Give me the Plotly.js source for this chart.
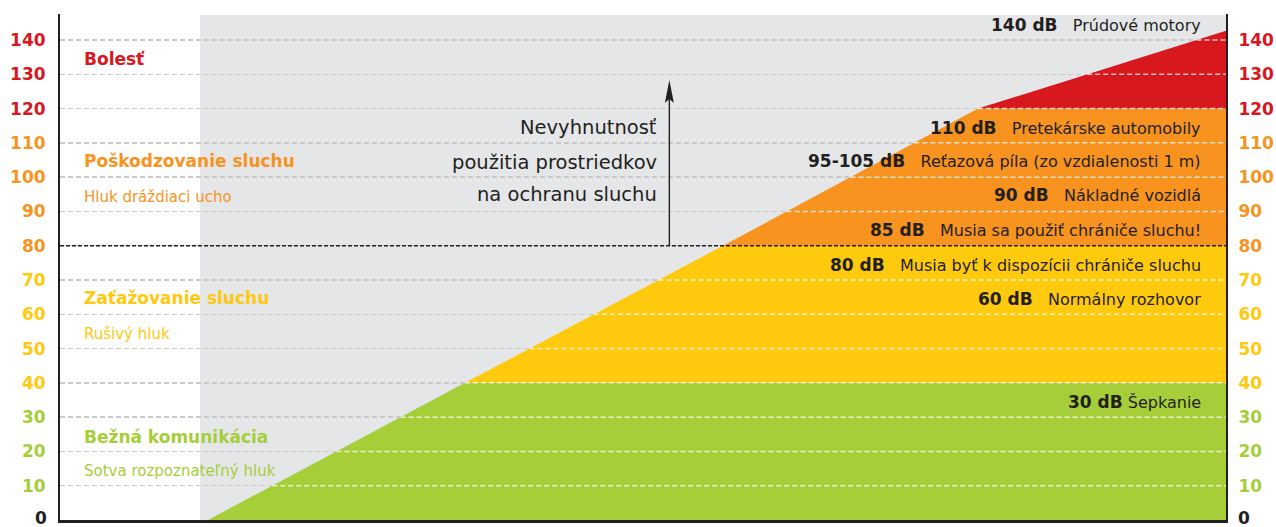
<!DOCTYPE html>
<html>
<head>
<meta charset="utf-8">
<script src="https://cdn.plot.ly/plotly-3.0.1.min.js"></script>
<style>html,body{margin:0;padding:0;background:#fff;}#chart{width:1276px;height:527px;}</style>
</head>
<body>
<div id="chart"></div>
<script>
// ---- data ----
const tickValues = [0, 10, 20, 30, 40, 50, 60, 70, 80, 90, 100, 110, 120, 130, 140];
const tickColors = ['#231f20', '#a6ce39', '#a6ce39', '#a6ce39', '#ffc90e', '#ffc90e', '#ffc90e', '#ffc90e',
                    '#f7931e', '#f7931e', '#f7931e', '#f7931e', '#d7181f', '#d7181f', '#d7181f'];
// noise curve (x: relative position 0-100, y: dB)
const curveX = [12.69, 34.73, 56.86, 78.73, 100];
const curveY = [0, 40, 80, 120, 142.7];
const zoneNames = ['Bežná komunikácia', 'Zaťažovanie sluchu', 'Poškodzovanie sluchu', 'Bolesť'];
const zoneSub = ['Sotva rozpoznateľný hluk', 'Rušivý hluk', 'Hluk dráždiaci ucho', ''];
const zoneColors = ['#a6ce39', '#ffc90e', '#f7931e', '#d7181f'];
const sourceDb = ['140 dB', '110 dB', '95-105 dB', '90 dB', '85 dB', '80 dB', '60 dB', '30 dB'];
const sourceName = ['Prúdové motory', 'Pretekárske automobily', 'Reťazová píla (zo vzdialenosti 1 m)',
                    'Nákladné vozidlá', 'Musia sa použiť chrániče sluchu!', 'Musia byť k dispozícii chrániče sluchu',
                    'Normálny rozhovor', 'Šepkanie'];
const protectionLimit = 80;
const protectionText = ['Nevyhnutnosť', 'použitia prostriedkov', 'na ochranu sluchu'];

// ---- layout helpers ----
const FONT = '"DejaVu Sans", sans-serif';
const yMax = 147.58;
const xGrayStart = 12.01;
const sourceRows = [144.4, 114.3, 104.7, 94.8, 84.6, 74.4, 64.5, 34.4];
const zoneRows = [[24.2, 14.3], [64.75, 54.25], [104.7, 94.2], [134.5, null]];
const protRows = [114.6, 104.4, 94.8];
const arrowX = 52.26, arrowTip = 128.3;
const sp3 = '\u00a0\u00a0\u00a0';
const sep = [sp3, sp3, sp3, sp3, sp3, sp3, sp3, '\u00a0'];

const ticktext = tickValues.map((v, i) => v === 0 ? '' : '<span style="color:' + tickColors[i] + '"><b>' + v + '</b></span>');

const traces = [];
// colored zones
for (let i = 0; i < curveX.length - 1; i++) {
  traces.push({
    type: 'scatter', mode: 'lines', fill: 'toself', fillcolor: zoneColors[i],
    line: {width: 0, color: zoneColors[i]},
    x: [curveX[i], curveX[i + 1], 100, 100, curveX[i]],
    y: [curveY[i], curveY[i + 1], curveY[i + 1], curveY[i], curveY[i]],
    hoverinfo: 'skip', showlegend: false
  });
}
// light dashed grid over the coloured zones
function curveXAt(v) {
  for (let i = 0; i < curveY.length - 1; i++) {
    if (v >= curveY[i] && v <= curveY[i + 1]) {
      return curveX[i] + (v - curveY[i]) / (curveY[i + 1] - curveY[i]) * (curveX[i + 1] - curveX[i]);
    }
  }
  return null;
}
const gx = [], gy = [];
tickValues.forEach(v => {
  if (v === 0 || v === protectionLimit) return;
  const sx = curveXAt(v);
  if (sx === null) return;
  gx.push(sx, 100, null); gy.push(v, v, null);
});
traces.push({type: 'scatter', mode: 'lines', x: gx, y: gy, connectgaps: false,
  line: {color: 'rgba(255,255,255,0.75)', width: 1.5, dash: '5px,3px'}, hoverinfo: 'skip', showlegend: false});
// dummy trace for right axis
traces.push({type: 'scatter', mode: 'markers', x: [0], y: [0], yaxis: 'y2', marker: {opacity: 0}, hoverinfo: 'skip', showlegend: false});

const annotations = [];
const base = {xref: 'x', yref: 'y', yanchor: 'middle', showarrow: false, borderpad: 0, borderwidth: 0};
zoneNames.forEach((n, i) => {
  annotations.push(Object.assign({}, base, {x: 2.06, y: zoneRows[i][0], xanchor: 'left',
    text: '<b>' + n + '</b>', font: {family: FONT, size: 17, color: zoneColors[i]}}));
  if (zoneSub[i]) {
    annotations.push(Object.assign({}, base, {x: 2.06, y: zoneRows[i][1], xanchor: 'left',
      text: zoneSub[i], font: {family: FONT, size: 15, color: zoneColors[i]}}));
  }
});
sourceDb.forEach((d, i) => {
  annotations.push(Object.assign({}, base, {x: 97.86, y: sourceRows[i], xanchor: 'right',
    text: '<b><span style="font-size:17px">' + d + '</span></b>' + sep[i] + sourceName[i],
    font: {family: FONT, size: 16, color: '#231f20'}}));
});
protectionText.forEach((t, i) => {
  annotations.push(Object.assign({}, base, {x: 51.2, y: protRows[i], xanchor: 'right',
    text: t, font: {family: FONT, size: 19.5, color: '#231f20'}}));
});
// zero labels
annotations.push(Object.assign({}, base, {xref: 'paper', x: -0.0112, y: 0, xanchor: 'right', yshift: 2,
  text: '<b>0</b>', font: {family: FONT, size: 17, color: tickColors[0]}}));
annotations.push(Object.assign({}, base, {xref: 'paper', x: 1.0103, y: 0, xanchor: 'left', yshift: 2,
  text: '<b>0</b>', font: {family: FONT, size: 17, color: tickColors[0]}}));

const layout = {
  width: 1276, height: 527,
  margin: {l: 60, r: 50, t: 14, b: 7, pad: 0},
  paper_bgcolor: '#ffffff', plot_bgcolor: '#ffffff',
  showlegend: false, hovermode: false,
  xaxis: {range: [0, 100], showgrid: false, zeroline: false, showticklabels: false, ticks: '',
    showline: true, linecolor: '#231f20', linewidth: 3, fixedrange: true},
  yaxis: {range: [0, yMax], tickmode: 'array', tickvals: tickValues, ticktext: ticktext,
    tickfont: {family: FONT, size: 17}, ticks: 'outside', ticklen: 9, tickcolor: 'rgba(0,0,0,0)',
    showgrid: true, gridcolor: '#c9c9c9', gridwidth: 1.5, griddash: '5px,3px',
    zeroline: false, showline: true, mirror: true, linecolor: '#231f20', linewidth: 2, fixedrange: true},
  yaxis2: {range: [0, yMax], overlaying: 'y', side: 'right', tickmode: 'array', tickvals: tickValues, ticktext: ticktext,
    tickfont: {family: FONT, size: 17}, ticks: 'outside', ticklen: 8, tickcolor: 'rgba(0,0,0,0)',
    showgrid: false, zeroline: false, showline: false, fixedrange: true},
  shapes: [
    {type: 'rect', layer: 'below', xref: 'x', yref: 'y', x0: xGrayStart, x1: 100, y0: 0, y1: yMax - 0.3,
      fillcolor: '#e5e6e8', line: {width: 0}},
    {type: 'line', layer: 'above', xref: 'x', yref: 'y', x0: 0, x1: 100, y0: protectionLimit, y1: protectionLimit,
      line: {color: '#231f20', width: 1.5, dash: '4px,2px'}},
    // arrow shaft
    {type: 'line', layer: 'above', xref: 'x', yref: 'y', x0: arrowX, x1: arrowX, y0: protectionLimit, y1: arrowTip - 4,
      line: {color: '#231f20', width: 1.4}},
    // arrow head (pixel-sized)
    {type: 'path', layer: 'above', xref: 'x', yref: 'y', xsizemode: 'pixel', ysizemode: 'pixel',
      xanchor: arrowX, yanchor: arrowTip, path: 'M0,0 L-4.5,-23 L0,-19 L4.5,-23 Z',
      fillcolor: '#231f20', line: {width: 0}}
  ],
  annotations: annotations
};

Plotly.newPlot('chart', traces, layout, {displayModeBar: false, staticPlot: true});
</script>
</body>
</html>
